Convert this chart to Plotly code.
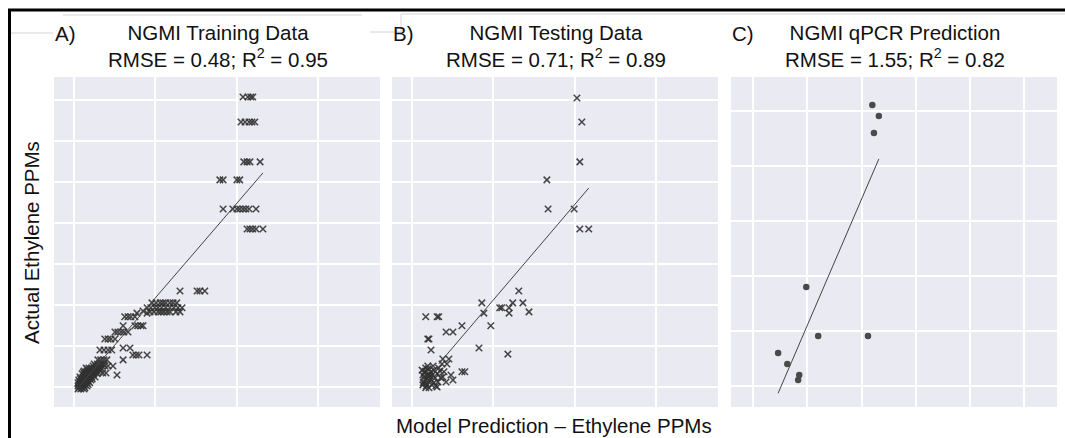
import plotly.graph_objects as go

W, H = 1065, 438

# ---------------- Data ----------------
# Panel A: training data, rows of (actual y, [predicted x ...])
train_rows = [
    (7.07, [4.16, 4.28, 4.35, 4.40]),
    (6.46, [4.11, 4.21, 4.31, 4.38, 4.45]),
    (5.49, [4.18, 4.26, 4.33, 4.58]),
    (5.05, [3.59, 3.67, 4.01, 4.08]),
    (4.34, [3.67, 3.91, 4.01, 4.08, 4.16, 4.23, 4.31, 4.48]),
    (3.85, [4.26, 4.33, 4.40, 4.48, 4.65]),
    (2.34, [2.61, 3.03, 3.10, 3.22]),
    (2.05, [1.92, 2.02, 2.12, 2.19, 2.26, 2.36, 2.44, 2.53]),
    (1.93, [1.80, 1.89, 1.99, 2.07, 2.16, 2.26, 2.36, 2.46, 2.56, 2.66]),
    (1.85, [1.70]),
    (1.83, [1.87, 1.97, 2.07, 2.14, 2.21, 2.29, 2.36, 2.51, 2.61]),
    (1.80, [1.55, 1.80]),
    (1.71, [1.25, 1.33, 1.40, 1.50]),
    (1.49, [1.21, 1.50, 1.57, 1.65, 1.70]),
    (1.34, [1.01, 1.08, 1.16, 1.23, 1.33]),
    (1.17, [0.76, 0.84, 0.91, 1.01]),
    (0.95, [1.21, 1.38]),
    (0.90, [0.64, 0.74, 0.84, 0.93]),
    (0.78, [1.45, 1.53, 1.60, 1.80]),
    (0.66, [0.59, 0.66, 0.74, 0.81, 1.21]),
    (0.56, [0.50, 0.58, 0.66, 0.73]),
    (0.51, [0.47, 0.54, 0.62, 0.69, 0.76, 0.84, 0.96]),
    (0.46, [0.30, 0.37, 0.44, 0.52, 0.59, 0.66]),
    (0.43, [0.33, 0.41, 0.49, 0.56, 0.63]),
    (0.39, [0.25, 0.32, 0.39, 0.47, 0.54, 0.64]),
    (0.36, [0.23, 0.30, 0.37, 0.45, 0.52, 0.60]),
    (0.34, [0.71, 0.79]),
    (0.32, [0.20, 0.27, 0.34, 0.42, 0.49, 0.57]),
    (0.29, [1.06, 0.25, 0.33, 0.40, 0.47]),
    (0.24, [0.15, 0.22, 0.30, 0.37, 0.44, 0.52]),
    (0.20, [0.16, 0.24, 0.31, 0.38, 0.45]),
    (0.17, [0.12, 0.20, 0.27, 0.34, 0.42]),
    (0.13, [0.14, 0.21, 0.29, 0.36]),
    (0.10, [0.10, 0.17, 0.25, 0.32, 0.39]),
    (0.06, [0.13, 0.20, 0.28, 0.35]),
    (0.02, [0.10, 0.17, 0.25, 0.32]),
    (-0.02, [0.12, 0.20, 0.27]),
    (-0.05, [0.10, 0.17, 0.25]),
]
train_line_x = [0.10, 4.65]
train_line_y = [-0.02, 5.22]

# Panel B: testing data
test_x = [4.06, 4.18, 4.13, 3.32, 3.35, 3.99, 4.13, 4.35,
          2.63, 1.72, 2.48, 2.73, 2.16, 2.21, 2.39, 2.39, 1.77, 2.88,
          0.34, 0.62, 0.66, 1.23, 1.94, 0.84, 1.01, 0.39, 0.42, 0.47,
          1.65, 2.36, 0.76, 0.91, 0.86, 0.74, 1.23, 1.30, 0.96, 1.01, 0.62,
          0.25, 0.30, 0.34, 0.39, 0.32, 0.37, 0.42, 0.47, 0.52, 0.57,
          0.27, 0.34, 0.44, 0.49, 0.54, 0.62, 0.66, 0.71, 0.79, 0.84,
          0.64, 0.59, 0.39, 0.30, 0.44, 0.54, 0.69, 0.76, 0.30, 0.37,
          0.42, 0.27, 0.35, 0.40, 0.45, 0.50, 0.33, 0.28]
test_y = [7.05, 6.46, 5.49, 5.05, 4.34, 4.34, 3.85, 3.85,
          2.34, 2.05, 2.05, 2.05, 1.93, 1.93, 1.93, 1.80, 1.80, 1.83,
          1.71, 1.71, 1.71, 1.49, 1.49, 1.34, 1.34, 1.17, 1.17, 0.90,
          0.95, 0.80, 0.68, 0.68, 0.56, 0.56, 0.37, 0.37, 0.29, 0.17, 0.00,
          0.41, 0.34, 0.46, 0.27, 0.17, 0.07, -0.02, 0.37, 0.51, 0.22,
          0.05, -0.02, 0.15, 0.05, 0.41, 0.32, 0.46, 0.22, 0.37, 0.12,
          0.12, 0.02, 0.51, 0.24, 0.27, 0.10, 0.39, 0.24, 0.12, 0.20,
          0.32, 0.29, 0.02, 0.44, 0.20, 0.29, 0.38, 0.10]
test_line_x = [0.66, 4.35]
test_line_y = [0.56, 4.85]

# Panel C: qPCR prediction
qpcr_x = [2.20, 2.32, 2.23, 0.98, 1.20, 2.12, 0.46, 0.63, 0.85, 0.83]
qpcr_y = [5.11, 4.91, 4.60, 1.80, 0.91, 0.91, 0.60, 0.40, 0.20, 0.11]
qpcr_line_x = [0.46, 2.32]
qpcr_line_y = [-0.13, 4.13]

titles = ["NGMI Training Data<br>RMSE = 0.48; R<sup>2</sup> = 0.95",
          "NGMI Testing Data<br>RMSE = 0.71; R<sup>2</sup> = 0.89",
          "NGMI qPCR Prediction<br>RMSE = 1.55; R<sup>2</sup> = 0.82"]
letters = ["A)", "B)", "C)"]

# ---------------- Figure ----------------
train_x, train_y = [], []
for yv, xs in train_rows:
    for xv in xs:
        train_x.append(xv)
        train_y.append(yv)

FONT = "Liberation Sans, Arial, sans-serif"
MCOL = "rgba(50,50,50,0.9)"
LCOL = "#444444"

fig = go.Figure()

xmark = dict(symbol="x-thin", size=6.5, line=dict(width=1.5, color=MCOL), color=MCOL)
fig.add_trace(go.Scatter(x=train_x, y=train_y, mode="markers", marker=xmark,
                         xaxis="x", yaxis="y", showlegend=False))
fig.add_trace(go.Scatter(x=train_line_x, y=train_line_y, mode="lines",
                         line=dict(color=LCOL, width=1), xaxis="x", yaxis="y", showlegend=False))
fig.add_trace(go.Scatter(x=test_x, y=test_y, mode="markers", marker=xmark,
                         xaxis="x2", yaxis="y2", showlegend=False))
fig.add_trace(go.Scatter(x=test_line_x, y=test_line_y, mode="lines",
                         line=dict(color=LCOL, width=1), xaxis="x2", yaxis="y2", showlegend=False))
fig.add_trace(go.Scatter(x=qpcr_x, y=qpcr_y, mode="markers",
                         marker=dict(symbol="circle", size=6.5, color="#4a4a4a"),
                         xaxis="x3", yaxis="y3", showlegend=False))
fig.add_trace(go.Scatter(x=qpcr_line_x, y=qpcr_line_y, mode="lines",
                         line=dict(color=LCOL, width=1), xaxis="x3", yaxis="y3", showlegend=False))

def px(v):
    return v / W

def py(v):
    return 1 - v / H

ydom = [py(407), py(77)]
panels = [(54, 380), (392, 718), (731, 1057)]

ax = dict(showticklabels=False, ticks="", showline=False, zeroline=False,
          showgrid=True, gridcolor="white", gridwidth=1.6)

layout = dict(
    width=W, height=H, margin=dict(l=0, r=0, t=0, b=0),
    paper_bgcolor="white", plot_bgcolor="#EAEAF2",
    xaxis=dict(ax, domain=[px(54), px(380)], range=[-0.49, 7.53], dtick=2, tick0=0, anchor="y"),
    yaxis=dict(ax, domain=ydom, range=[-0.49, 7.56], dtick=1, tick0=0, anchor="x"),
    xaxis2=dict(ax, domain=[px(392), px(718)], range=[-0.49, 7.53], dtick=2, tick0=0, anchor="y2"),
    yaxis2=dict(ax, domain=ydom, range=[-0.49, 7.56], dtick=1, tick0=0, anchor="x2"),
    xaxis3=dict(ax, domain=[px(731), px(1057)], range=[-0.41, 5.61], dtick=1, tick0=0, anchor="y3"),
    yaxis3=dict(ax, domain=ydom, range=[-0.38, 5.62], dtick=1, tick0=0, anchor="x3"),
    font=dict(family=FONT, color="#111111"),
)
fig.update_layout(**layout)

TF = dict(size=20.5, family=FONT, color="#111111")
ann = []
for (l, r), t, lt in zip(panels, titles, letters):
    ann.append(dict(x=px((l + r) / 2 + 1), y=py(46), xref="paper", yref="paper",
                    text=t, showarrow=False, xanchor="center", yanchor="middle", font=TF))
    ann.append(dict(x=px(l - 1), y=py(34), xref="paper", yref="paper",
                    text=lt, showarrow=False, xanchor="left", yanchor="middle", font=TF))
ann.append(dict(x=px(31), y=py(243), xref="paper", yref="paper", textangle=-90,
                text="Actual Ethylene PPMs", showarrow=False, xanchor="center", yanchor="middle",
                font=TF))
ann.append(dict(x=px(554), y=py(425.5), xref="paper", yref="paper",
                text="Model Prediction – Ethylene PPMs", showarrow=False,
                xanchor="center", yanchor="middle", font=TF))
fig.update_layout(annotations=ann)

shapes = []
def seg(x0, y0, x1, y1, color, width):
    shapes.append(dict(type="line", xref="paper", yref="paper",
                       x0=px(x0), y0=py(y0), x1=px(x1), y1=py(y1),
                       line=dict(color=color, width=width)))

GRAY = "#d4d4d4"
seg(63, 15, 362, 15, GRAY, 1)
seg(10, 33, 53, 33, GRAY, 1)
seg(370, 32, 401, 32, GRAY, 1)
seg(401, 14, 401, 32, GRAY, 1)
seg(401, 14, 1065, 14, GRAY, 1)
seg(8, 10, 1065, 10, "black", 3)
seg(9.5, 9, 9.5, 438, "black", 3)
fig.update_layout(shapes=shapes)

fig.write_html("out.html")
